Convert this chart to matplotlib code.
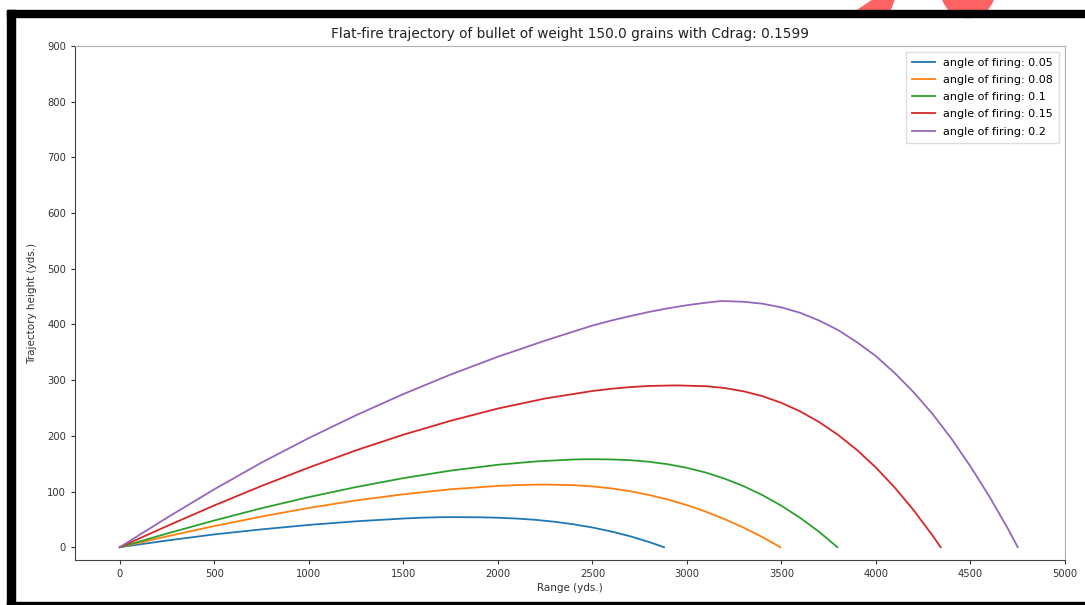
import matplotlib
matplotlib.use("Agg")
import matplotlib.pyplot as plt
from matplotlib.patches import Rectangle, Polygon, Ellipse

W, H = 1085, 605

angles = [0.05, 0.08, 0.1, 0.15, 0.2]
colors = ["#1f77b4", "#ff7f0e", "#2ca02c", "#d62728", "#9467bd"]

range_005 = [0, 250, 500, 750, 1000, 1250, 1500, 1600, 1700, 1750, 1900, 2000, 2100, 2200,
             2300, 2400, 2500, 2600, 2700, 2800, 2879]
height_005 = [0, 12, 23, 32, 40, 46.5, 51.5, 53, 53.8, 54, 53.7, 52.9, 51.4, 49.1,
              45.7, 41.1, 35.4, 28.2, 19.6, 9.3, 0]

range_008 = [0, 250, 500, 750, 1000, 1250, 1500, 1750, 2000, 2100, 2200, 2250, 2400, 2500,
             2600, 2700, 2800, 2900, 3000, 3100, 3200, 3300, 3400, 3494]
height_008 = [0, 19.5, 38, 55, 70.5, 84, 95, 104, 110, 111.5, 112.3, 112.5, 111.4, 109.2,
              105.6, 100.5, 93.8, 85.5, 75.5, 63.8, 50.3, 35.1, 18, 0]

range_010 = [0, 250, 500, 750, 1000, 1250, 1500, 1750, 2000, 2200, 2400, 2480, 2600, 2700,
             2800, 2900, 3000, 3100, 3200, 3300, 3400, 3500, 3600, 3700, 3796]
height_010 = [0, 24.5, 48, 70, 90, 108, 124, 137.5, 148, 154, 157.5, 158, 157.6, 156.2,
              153.4, 148.9, 142.5, 134, 123, 109.6, 93.4, 74.4, 52.4, 27.4, 0]

range_015 = [0, 250, 500, 750, 1000, 1250, 1500, 1750, 2000, 2250, 2500, 2600, 2700, 2800,
             2900, 2950, 3100, 3200, 3300, 3400, 3500, 3600, 3700, 3800, 3900, 4000, 4100,
             4200, 4300, 4342]
height_015 = [0, 38, 75, 110, 143, 174, 202, 227, 249, 267, 280.5, 284.5, 287.5, 289.5,
              290.3, 290.5, 289.1, 285.8, 279.9, 271.2, 259.2, 243.7, 224.6, 201.5, 174.5,
              142.9, 106.8, 66.1, 20.6, 0]

range_020 = [0, 250, 500, 750, 1000, 1250, 1500, 1750, 2000, 2250, 2500, 2600, 2700, 2800,
             2900, 3000, 3100, 3180, 3300, 3400, 3500, 3600, 3700, 3800, 3900, 4000, 4100,
             4200, 4300, 4400, 4500, 4600, 4700, 4750]
height_020 = [0, 53, 104, 152, 196, 237, 275, 310, 342, 371, 398, 407, 415, 422.5,
              429, 434.5, 439, 442, 440.8, 437.2, 430.6, 420.8, 407, 389.8, 368, 343, 312.5,
              278, 239, 194.5, 145, 91, 32, 0]

ranges = [range_005, range_008, range_010, range_015, range_020]
heights = [height_005, height_008, height_010, height_015, height_020]

title = "Flat-fire trajectory of bullet of weight 150.0 grains with Cdrag: 0.1599"
xlabel = "Range (yds.)"
ylabel = "Trajectory height (yds.)"
xticks = [0, 500, 1000, 1500, 2000, 2500, 3000, 3500, 4000, 4500, 5000]
yticks = [0, 100, 200, 300, 400, 500, 600, 700, 800, 900]

plt.rcParams['font.family'] = ['DejaVu Sans']

fig = plt.figure(figsize=(W / 100, H / 100), dpi=100)
fig.patch.set_facecolor("white")


def fx(x):
    return x / W


def fy(y):
    return 1 - y / H


ax = fig.add_axes([fx(75), fy(560), fx(1065) - fx(75), fy(46) - fy(560)])

for r, h, a, c in zip(ranges, heights, angles, colors):
    ax.plot(r, h, color=c, lw=1.3, label=f"angle of firing: {a}")

ax.set_xlim(-237, 5000)
ax.set_ylim(-23, 900)
ax.set_xticks(xticks)
ax.set_yticks(yticks)
ax.tick_params(labelsize=7.2, length=3, width=0.8, colors="#333333")
ax.set_title(title, fontsize=9.8, pad=6, color="#222222")
ax.set_xlabel(xlabel, fontsize=7.5, labelpad=3, color="#333333")
ax.set_ylabel(ylabel, fontsize=7.5, labelpad=7, color="#333333")
for s in ["left", "bottom"]:
    ax.spines[s].set_color("#444444")
for s in ["top", "right"]:
    ax.spines[s].set_color("#b0b0b0")

leg = ax.legend(loc="upper right", fontsize=8.0, handlelength=2.0, borderpad=0.55,
                labelspacing=0.65, framealpha=1, fancybox=False)
leg.get_frame().set_edgecolor("#dddddd")

# screenshot frame
fig.patches.append(Rectangle((fx(7), fy(17)), 1 - fx(7), fy(10) - fy(17),
                             transform=fig.transFigure, color="black", zorder=10))
fig.patches.append(Rectangle((fx(7), 0), fx(15) - fx(7), fy(10),
                             transform=fig.transFigure, color="black", zorder=10))
fig.patches.append(Rectangle((fx(7), 0), 1 - fx(7), fy(602),
                             transform=fig.transFigure, color="black", zorder=10))
# red marks peeking above the top edge
fig.patches.append(Polygon([(fx(858), fy(10)), (fx(890), fy(10)), (fx(894), fy(0)),
                            (fx(873), fy(0))], closed=True,
                           transform=fig.transFigure, color="#ff6262", zorder=9))
fig.patches.append(Ellipse((fx(968), fy(-9)), 53.2 / W, 53.2 / H,
                           transform=fig.transFigure, color="#ff6262", zorder=9))

fig.savefig("out.png", dpi=100)
